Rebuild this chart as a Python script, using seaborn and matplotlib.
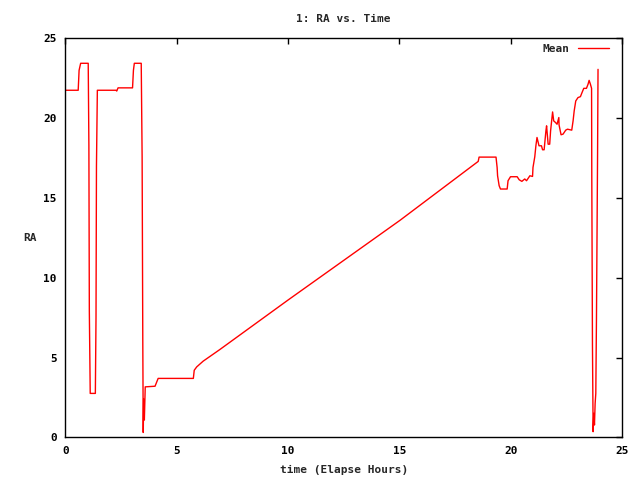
import matplotlib
matplotlib.use("Agg")
import matplotlib.pyplot as plt
import seaborn as sns
import pandas as pd

# Data (hours since start, RA in hours)
hours = [0.00, 0.58, 0.62, 0.69, 1.03, 1.06, 1.08, 1.12, 1.35, 1.38, 1.40, 1.44,
         2.28, 2.31, 2.37, 3.02, 3.06, 3.10, 3.41, 3.45, 3.48, 3.50, 3.52, 3.55,
         3.59, 4.03, 4.17, 5.75, 5.79, 5.90, 6.19, 6.94, 10.00, 15.03, 18.54,
         18.58, 19.34, 19.39, 19.41, 19.48, 19.54, 19.84, 19.88, 19.99, 20.29,
         20.38, 20.50, 20.63, 20.71, 20.86, 20.98, 21.00, 21.08, 21.13, 21.18,
         21.27, 21.38, 21.43, 21.50, 21.58, 21.61, 21.68, 21.75, 21.79, 21.84,
         21.88, 21.93, 22.01, 22.08, 22.16, 22.17, 22.26, 22.35, 22.47, 22.55,
         22.74, 22.80, 22.85, 22.92, 23.02, 23.13, 23.20, 23.28, 23.40, 23.47,
         23.52, 23.58, 23.63, 23.64, 23.67, 23.70, 23.73, 23.76, 23.79, 23.82,
         23.85, 23.90, 23.92]
ra = [21.75, 21.75, 23.00, 23.44, 23.44, 18.27, 7.90, 2.75, 2.75, 7.54, 17.00, 21.75,
      21.75, 21.70, 21.90, 21.90, 23.00, 23.44, 23.44, 17.60, 6.08, 0.30, 2.40, 1.08,
      3.16, 3.20, 3.69, 3.69, 4.20, 4.41, 4.77, 5.50, 8.60, 13.60, 17.29,
      17.56, 17.56, 16.90, 16.39, 15.77, 15.56, 15.56, 16.08, 16.33, 16.33,
      16.14, 16.04, 16.19, 16.08, 16.39, 16.35, 16.91, 17.58, 18.27, 18.79,
      18.27, 18.27, 18.02, 18.02, 19.20, 19.52, 18.37, 18.37, 19.20, 19.87,
      20.39, 19.83, 19.73, 19.62, 20.04, 19.58, 18.96, 19.00, 19.25, 19.31,
      19.25, 19.83, 20.46, 21.08, 21.29, 21.35, 21.60, 21.87, 21.87, 22.12,
      22.37, 22.12, 21.87, 16.39, 5.77, 0.35, 1.50, 0.77, 2.12, 2.75,
      7.44, 17.85, 23.06]
x_ticks = [0, 5, 10, 15, 20, 25]
y_ticks = [0, 5, 10, 15, 20, 25]

df = pd.DataFrame({"hours": hours, "RA": ra})

sns.set_theme(style="white")
plt.rcParams["font.family"] = ["DejaVu Sans Mono"]
plt.rcParams["font.weight"] = "bold"

fig = plt.figure(figsize=(6.4, 4.8), dpi=100)
ax = fig.add_axes([0.102, 0.089, 0.870, 0.831])

sns.lineplot(data=df, x="hours", y="RA", sort=False, estimator=None,
             color="red", linewidth=1.0, label="Mean", ax=ax)

ax.set_xlim(0, 25)
ax.set_ylim(0, 25)
ax.set_xticks(x_ticks)
ax.set_yticks(y_ticks)
ax.tick_params(direction="in", length=4, width=1, top=True, right=True,
               labelsize=8, colors="black", pad=6)
for spine in ax.spines.values():
    spine.set_color("black")
    spine.set_linewidth(1)

ax.set_title("1: RA vs. Time", fontsize=8, fontweight="bold", pad=12)
ax.set_xlabel("time (Elapse Hours)", fontsize=8, fontweight="bold", labelpad=7)
ax.set_ylabel("RA", fontsize=8, fontweight="bold", rotation=0, labelpad=10, va="center")

# gnuplot-style key: text first, then the line sample
leg = ax.legend(loc="upper right", bbox_to_anchor=(0.987, 1.0), frameon=False,
                fontsize=8, markerfirst=False, handlelength=2.8,
                borderaxespad=0.3, borderpad=0.2)

fig.savefig("out.png", dpi=100)
